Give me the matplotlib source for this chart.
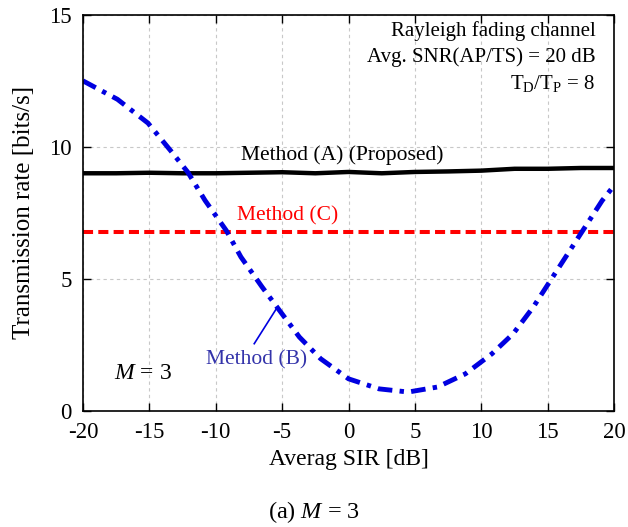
import matplotlib
matplotlib.use("Agg")
import matplotlib.pyplot as plt
import numpy as np

plt.rcParams["font.family"] = ["Liberation Serif", "DejaVu Serif"]
plt.rcParams["mathtext.fontset"] = "custom"
plt.rcParams["mathtext.rm"] = "Liberation Serif"
plt.rcParams["mathtext.it"] = "Liberation Serif:italic"
plt.rcParams["axes.unicode_minus"] = False

# ── data ───────────────────────────────────────────
sir_a = [-20, -17.5, -15, -12.5, -10, -7.5, -5, -2.5, 0, 2.5, 5, 7.5, 10, 12.5, 15, 17.5, 20]
rate_a = [9.0, 9.0, 9.02, 9.0, 9.0, 9.02, 9.04, 9.0, 9.05, 9.0, 9.05, 9.07, 9.1, 9.17, 9.17, 9.2, 9.2]

sir_b = [-20, -17.4, -15.1, -13.4, -12.1, -10.8, -9.2, -8.1, -6.5, -5.2, -3.7, -2.1,
         0.0, 2.3, 4.5, 6.7, 8.8, 10.8, 12.4, 13.9, 15.2, 16.5, 17.8, 19.1, 20]
rate_b = [12.5, 11.8, 10.9, 9.86, 9.04, 7.97, 6.83, 5.83, 4.69, 3.81, 2.80, 1.98,
          1.22, 0.84, 0.72, 0.91, 1.41, 2.17, 2.93, 3.93, 4.94, 5.95, 6.96, 7.97, 8.54]

sir_c = [-20, 20]
rate_c = [6.78, 6.78]

fig = plt.figure(figsize=(6.28, 5.27), dpi=100)
ax = fig.add_axes([0.132, 0.220, 0.846, 0.752])

ax.plot(sir_a, rate_a, color="black", lw=3.2, solid_capstyle="butt")
ax.plot(sir_c, rate_c, color="#FF0000", lw=2.9, dashes=(2.5, 1.3))
ax.plot(sir_b, rate_b, color="#0000E0", lw=3.5, dashes=(3.0, 1.5, 0.9, 1.5))

ax.set_xlim(-20, 20)
ax.set_ylim(0, 15)
ax.set_xticks(np.arange(-20, 21, 5))
ax.set_yticks([0, 5, 10, 15])
ax.tick_params(direction="in", top=True, right=True, length=6, width=1,
               labelsize=16.5, pad=8)
ax.grid(True, color="#C8C8C8", linestyle=(0, (3, 3)), linewidth=0.8)
for sp in ax.spines.values():
    sp.set_linewidth(1.2)

ax.set_xlabel("Averag SIR [dB]", fontsize=17, labelpad=4)
ax.set_ylabel("Transmission rate [bits/s]", fontsize=18, labelpad=10)

ax.text(18.6, 14.4, "Rayleigh fading channel", ha="right", va="center", fontsize=15)
ax.text(18.6, 13.4, "Avg. SNR(AP/TS) = 20 dB", ha="right", va="center", fontsize=15)
ax.text(18.6, 12.4, r"T$_\mathrm{D}$/T$_\mathrm{P}$ = 8", ha="right", va="center", fontsize=15)

ax.text(-0.5, 9.7, "Method (A) (Proposed)", ha="center", va="center", fontsize=15.5)
ax.text(-4.6, 7.4, "Method (C)", ha="center", va="center", fontsize=15.5, color="#FF0000")
ax.text(-6.9, 1.92, "Method (B)", ha="center", va="center", fontsize=15.5, color="#3333AA")
ax.plot([-7.1, -5.4], [2.55, 3.9], color="#0000E0", lw=1.2)
ax.text(-15.5, 1.41, r"$M$ = 3", ha="center", va="center", fontsize=17)

fig.text(0.5, 0.028, r"(a) $M$ = 3", ha="center", va="center", fontsize=17.5)

fig.savefig("out.png", dpi=100)
